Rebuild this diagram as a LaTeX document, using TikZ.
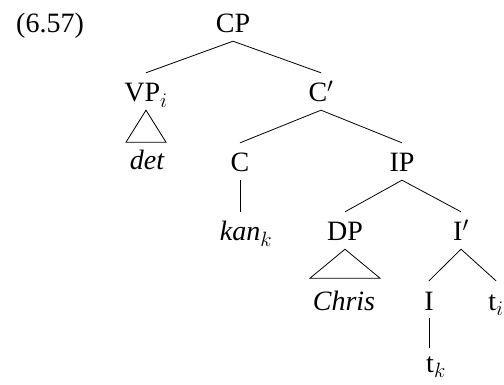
\documentclass[tikz,border=0pt]{standalone}
\usepackage{fontspec}
\setmainfont{Liberation Serif}
\usepackage{tikz}

\begin{document}
\begin{tikzpicture}[x=1pt,y=-1pt]

\tikzset{word/.style = {anchor=base,inner sep=0pt,text height=29pt,text depth=8pt,font=\fontsize{28}{32}\selectfont}}
\tikzset{edge/.style = {-,line width=0.8pt}}
\useasboundingbox (0,0) rectangle (504,385);
\node[word] (ex) at (50,33) {(6.57)};
\node[word] (cp) at (233,33) {CP};
\node[word] (vp) at (146,102) {VP$_i$};
\node[word] (det) at (147,170) {\itshape det};
\node[word] (cbar) at (321,102) {C$'$};
\node[word] (c) at (240,172) {C};
\node[word] (ip) at (402,172) {IP};
\node[word] (kan) at (246,241) {\itshape kan$_k$};
\node[word] (dp) at (345,241) {DP};
\node[word] (ibar) at (461,241) {I$'$};
\node[word] (chris) at (344,310) {\itshape Chris};
\node[word] (i) at (429,310) {I};
\node[word] (ti) at (496,310) {t$_i$};
\node[word,text height=24pt] (tk) at (436,372) {t$_k$};

%edges
\draw[edge] (cp.south) to (vp.north);
\draw[edge] (cp.south) to (cbar.north);
\draw[edge] (cbar.south) to (c.north);
\draw[edge] (cbar.south) to (ip.north);
\draw[edge] (ip.south) to (dp.north);
\draw[edge] (ip.south) to (ibar.north);
\draw[edge] (ibar.south) to (i.north);
\draw[edge] (ibar.south) to (ti.north);
\draw[edge] (c.south) to (c.south |- kan.north);
\draw[edge] (i.south) to (i.south |- tk.north);

%triangles
\draw[edge] (vp.south) -- ++(-20,32) -- ++(40,0) -- cycle;
\draw[edge] (dp.south) -- ++(-35,29) -- ++(70,0) -- cycle;
\end{tikzpicture}
\end{document}
